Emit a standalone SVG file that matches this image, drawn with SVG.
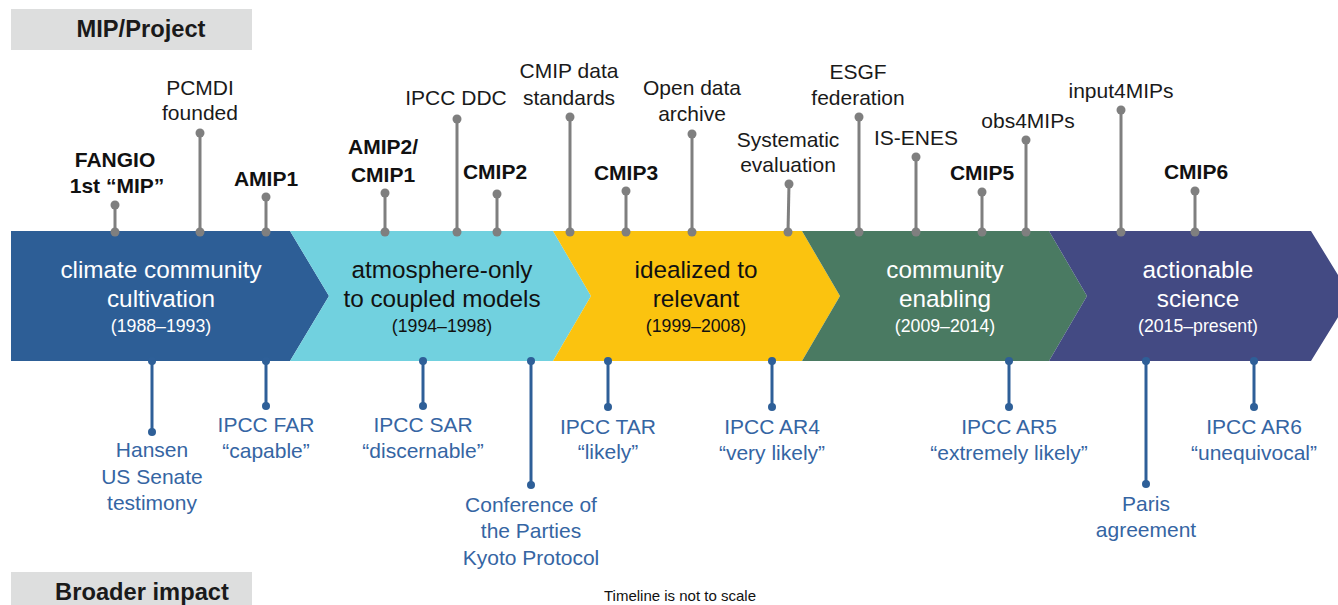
<svg xmlns="http://www.w3.org/2000/svg" width="1338" height="605" viewBox="0 0 1338 605">
<style>
.hdr{font-family:"Liberation Sans",Arial,sans-serif;font-weight:bold;font-size:23.7px;fill:#1a1a1a;text-anchor:middle}
.up{font-family:"Liberation Sans",Arial,sans-serif;font-size:21px;fill:#1a1a1a;text-anchor:middle}
.upb{font-family:"Liberation Sans",Arial,sans-serif;font-size:21px;font-weight:bold;fill:#111;text-anchor:middle}
.dn{font-family:"Liberation Sans",Arial,sans-serif;font-size:21px;fill:#3565a3;text-anchor:middle}
.ch{font-family:"Liberation Sans",Arial,sans-serif;font-size:24.3px;text-anchor:middle}
.yr{font-family:"Liberation Sans",Arial,sans-serif;font-size:17.7px;text-anchor:middle}
.w{fill:#ffffff}.k{fill:#111111}
.gp{stroke:#7f7f7f;stroke-width:3;fill:none}
.gd{fill:#7f7f7f}
.bp{stroke:#2e5f98;stroke-width:3;fill:none}
.bd{fill:#2e5f98}
.note{font-family:"Liberation Sans",Arial,sans-serif;font-size:15px;fill:#111;text-anchor:middle}
</style>
<rect width="1338" height="605" fill="#ffffff"/>
<g id="header-mip">
<rect x="11" y="9" width="241" height="41" fill="#dddede"/>
<text class="hdr" x="141" y="37">MIP/Project</text>
</g>
<g id="header-broader">
<rect x="11" y="572" width="241" height="40" fill="#dddede"/>
<text class="hdr" x="142" y="600">Broader impact</text>
</g>
<g id="phase1">
<polygon points="11,231 290,231 329,296 290,361 11,361" fill="#2d5e96"/>
<text class="ch w" x="161" y="278">climate community</text>
<text class="ch w" x="161" y="307">cultivation</text>
<text class="yr w" x="161" y="332">(1988–1993)</text>
</g>
<g id="phase2">
<polygon points="290,231 553,231 591,296 553,361 290,361 329,296" fill="#71d1df"/>
<text class="ch k" x="442" y="278">atmosphere-only</text>
<text class="ch k" x="442" y="307">to coupled models</text>
<text class="yr k" x="442" y="332">(1994–1998)</text>
</g>
<g id="phase3">
<polygon points="553,231 802,231 840,296 802,361 553,361 591,296" fill="#fbc30f"/>
<text class="ch k" x="696" y="278">idealized to</text>
<text class="ch k" x="696" y="307">relevant</text>
<text class="yr k" x="696" y="332">(1999–2008)</text>
</g>
<g id="phase4">
<polygon points="802,231 1049,231 1087,296 1049,361 802,361 840,296" fill="#4a7a62"/>
<text class="ch w" x="945" y="278">community</text>
<text class="ch w" x="945" y="307">enabling</text>
<text class="yr w" x="945" y="332">(2009–2014)</text>
</g>
<g id="phase5">
<polygon points="1049,231 1311,231 1351,296 1311,361 1049,361 1087,296" fill="#434a83"/>
<text class="ch w" x="1198" y="278">actionable</text>
<text class="ch w" x="1198" y="307">science</text>
<text class="yr w" x="1198" y="332">(2015–present)</text>
</g>
<g id="connectors">
<g id="pins-top">
<line class="gp" x1="115" y1="205" x2="115" y2="232"/><circle class="gd" cx="115" cy="205" r="4.5"/><circle class="gd" cx="115" cy="232" r="4.5"/>
<line class="gp" x1="200" y1="133" x2="200" y2="232"/><circle class="gd" cx="200" cy="133" r="4.5"/><circle class="gd" cx="200" cy="232" r="4.5"/>
<line class="gp" x1="266" y1="197" x2="266" y2="232"/><circle class="gd" cx="266" cy="197" r="4.5"/><circle class="gd" cx="266" cy="232" r="4.5"/>
<line class="gp" x1="385" y1="193" x2="385" y2="232"/><circle class="gd" cx="385" cy="193" r="4.5"/><circle class="gd" cx="385" cy="232" r="4.5"/>
<line class="gp" x1="457" y1="119" x2="457" y2="232"/><circle class="gd" cx="457" cy="119" r="4.5"/><circle class="gd" cx="457" cy="232" r="4.5"/>
<line class="gp" x1="497" y1="194" x2="497" y2="232"/><circle class="gd" cx="497" cy="194" r="4.5"/><circle class="gd" cx="497" cy="232" r="4.5"/>
<line class="gp" x1="570" y1="117" x2="570" y2="232"/><circle class="gd" cx="570" cy="117" r="4.5"/><circle class="gd" cx="570" cy="232" r="4.5"/>
<line class="gp" x1="626" y1="191" x2="626" y2="232"/><circle class="gd" cx="626" cy="191" r="4.5"/><circle class="gd" cx="626" cy="232" r="4.5"/>
<line class="gp" x1="692" y1="134" x2="692" y2="232"/><circle class="gd" cx="692" cy="134" r="4.5"/><circle class="gd" cx="692" cy="232" r="4.5"/>
<line class="gp" x1="789" y1="184" x2="788" y2="232"/><circle class="gd" cx="789" cy="184" r="4.5"/><circle class="gd" cx="788" cy="232" r="4.5"/>
<line class="gp" x1="859" y1="117" x2="859" y2="232"/><circle class="gd" cx="859" cy="117" r="4.5"/><circle class="gd" cx="859" cy="232" r="4.5"/>
<line class="gp" x1="916" y1="157" x2="916" y2="232"/><circle class="gd" cx="916" cy="157" r="4.5"/><circle class="gd" cx="916" cy="232" r="4.5"/>
<line class="gp" x1="982" y1="192" x2="982" y2="232"/><circle class="gd" cx="982" cy="192" r="4.5"/><circle class="gd" cx="982" cy="232" r="4.5"/>
<line class="gp" x1="1026" y1="140" x2="1026" y2="232"/><circle class="gd" cx="1026" cy="140" r="4.5"/><circle class="gd" cx="1026" cy="232" r="4.5"/>
<line class="gp" x1="1121" y1="110" x2="1121" y2="232"/><circle class="gd" cx="1121" cy="110" r="4.5"/><circle class="gd" cx="1121" cy="232" r="4.5"/>
<line class="gp" x1="1195" y1="191" x2="1195" y2="232"/><circle class="gd" cx="1195" cy="191" r="4.5"/><circle class="gd" cx="1195" cy="232" r="4.5"/>
</g>
<g id="pins-bottom">
<line class="bp" x1="152" y1="361" x2="152" y2="432"/><circle class="bd" cx="152" cy="361" r="4"/><circle class="bd" cx="152" cy="432" r="4"/>
<line class="bp" x1="266" y1="361" x2="266" y2="406"/><circle class="bd" cx="266" cy="361" r="4"/><circle class="bd" cx="266" cy="406" r="4"/>
<line class="bp" x1="423" y1="361" x2="423" y2="406"/><circle class="bd" cx="423" cy="361" r="4"/><circle class="bd" cx="423" cy="406" r="4"/>
<line class="bp" x1="531" y1="361" x2="531" y2="485"/><circle class="bd" cx="531" cy="361" r="4"/><circle class="bd" cx="531" cy="485" r="4"/>
<line class="bp" x1="608" y1="361" x2="608" y2="407"/><circle class="bd" cx="608" cy="361" r="4"/><circle class="bd" cx="608" cy="407" r="4"/>
<line class="bp" x1="772" y1="361" x2="772" y2="407"/><circle class="bd" cx="772" cy="361" r="4"/><circle class="bd" cx="772" cy="407" r="4"/>
<line class="bp" x1="1009" y1="361" x2="1009" y2="407"/><circle class="bd" cx="1009" cy="361" r="4"/><circle class="bd" cx="1009" cy="407" r="4"/>
<line class="bp" x1="1146" y1="361" x2="1146" y2="484"/><circle class="bd" cx="1146" cy="361" r="4"/><circle class="bd" cx="1146" cy="484" r="4"/>
<line class="bp" x1="1254" y1="361" x2="1254" y2="407"/><circle class="bd" cx="1254" cy="361" r="4"/><circle class="bd" cx="1254" cy="407" r="4"/>
</g>
</g>
<g id="fangio"><text class="upb" x="115" y="167">FANGIO</text><text class="upb" x="117" y="193">1st “MIP”</text></g>
<g id="pcmdi"><text class="up" x="200" y="95">PCMDI</text><text class="up" x="200" y="120">founded</text></g>
<g id="amip1"><text class="upb" x="266" y="186">AMIP1</text></g>
<g id="amip2"><text class="upb" x="383" y="154">AMIP2/</text><text class="upb" x="383" y="182">CMIP1</text></g>
<g id="ipcc-ddc"><text class="up" x="456" y="105">IPCC DDC</text></g>
<g id="cmip2"><text class="upb" x="495" y="179">CMIP2</text></g>
<g id="cmip-standards"><text class="up" x="569" y="78">CMIP data</text><text class="up" x="569" y="105">standards</text></g>
<g id="cmip3"><text class="upb" x="626" y="180">CMIP3</text></g>
<g id="open-archive"><text class="up" x="692" y="95">Open data</text><text class="up" x="692" y="121">archive</text></g>
<g id="systematic"><text class="up" x="788" y="147">Systematic</text><text class="up" x="788" y="172">evaluation</text></g>
<g id="esgf"><text class="up" x="858" y="79">ESGF</text><text class="up" x="858" y="105">federation</text></g>
<g id="is-enes"><text class="up" x="916" y="145">IS-ENES</text></g>
<g id="cmip5"><text class="upb" x="982" y="180">CMIP5</text></g>
<g id="obs4mips"><text class="up" x="1028" y="128">obs4MIPs</text></g>
<g id="input4mips"><text class="up" x="1121" y="98">input4MIPs</text></g>
<g id="cmip6"><text class="upb" x="1196" y="179">CMIP6</text></g>
<g id="hansen"><text class="dn" x="152" y="457">Hansen</text><text class="dn" x="152" y="484">US Senate</text><text class="dn" x="152" y="510">testimony</text></g>
<g id="ipcc-far"><text class="dn" x="266" y="432">IPCC FAR</text><text class="dn" x="266" y="458">“capable”</text></g>
<g id="ipcc-sar"><text class="dn" x="423" y="432">IPCC SAR</text><text class="dn" x="423" y="458">“discernable”</text></g>
<g id="kyoto"><text class="dn" x="531" y="512">Conference of</text><text class="dn" x="531" y="538">the Parties</text><text class="dn" x="531" y="565">Kyoto Protocol</text></g>
<g id="ipcc-tar"><text class="dn" x="608" y="434">IPCC TAR</text><text class="dn" x="608" y="459">“likely”</text></g>
<g id="ipcc-ar4"><text class="dn" x="772" y="434">IPCC AR4</text><text class="dn" x="772" y="460">“very likely”</text></g>
<g id="ipcc-ar5"><text class="dn" x="1009" y="434">IPCC AR5</text><text class="dn" x="1009" y="460">“extremely likely”</text></g>
<g id="paris"><text class="dn" x="1146" y="511">Paris</text><text class="dn" x="1146" y="537">agreement</text></g>
<g id="ipcc-ar6"><text class="dn" x="1254" y="434">IPCC AR6</text><text class="dn" x="1254" y="460">“unequivocal”</text></g>
<text class="note" x="680" y="601">Timeline is not to scale</text>
</svg>
